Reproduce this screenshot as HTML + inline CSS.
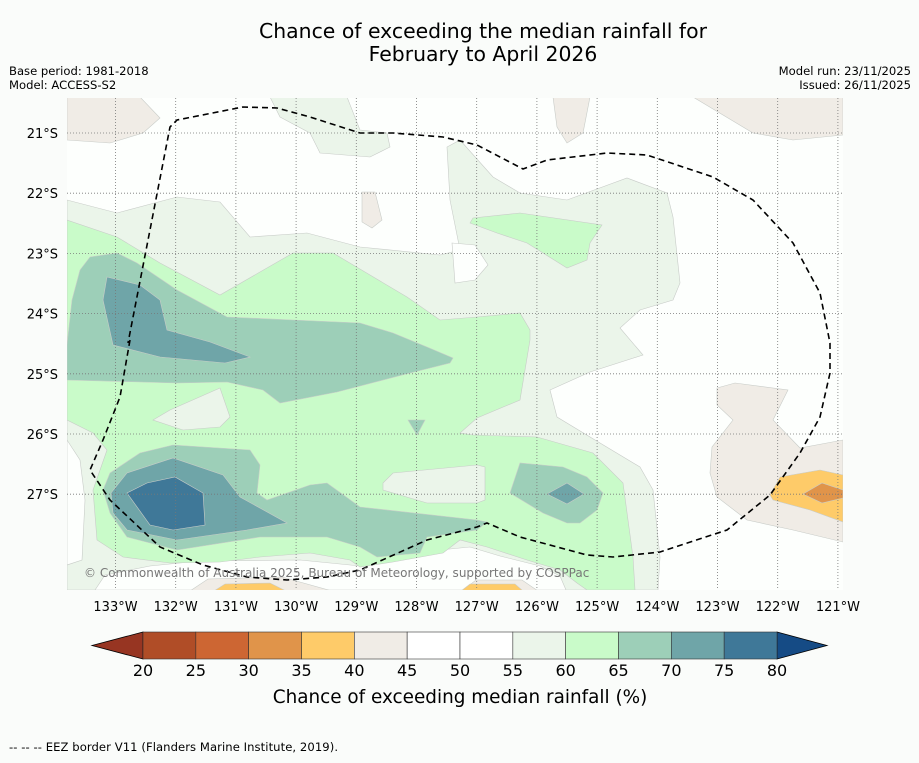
<!DOCTYPE html>
<html><head><meta charset="utf-8"><style>
html,body{margin:0;padding:0;background:#fafcfa;}
body{width:919px;height:758px;overflow:hidden;font-family:"Liberation Sans","DejaVu Sans",sans-serif;}
</style></head><body>
<svg id="fig" width="919" height="758" viewBox="0 0 919 758" xmlns="http://www.w3.org/2000/svg" font-family="DejaVu Sans, Liberation Sans, sans-serif">
<text x="483" y="38" font-size="20.4" text-anchor="middle">Chance of exceeding the median rainfall for</text>
<text x="483" y="61" font-size="20.4" text-anchor="middle">February to April 2026</text>
<text x="9" y="75" font-size="11.6">Base period: 1981-2018</text>
<text x="9" y="89" font-size="11.6">Model: ACCESS-S2</text>
<text x="911" y="75" font-size="11.6" text-anchor="end">Model run: 23/11/2025</text>
<text x="911" y="89" font-size="11.6" text-anchor="end">Issued: 26/11/2025</text>

<defs><clipPath id="mapclip"><rect x="67" y="98" width="776" height="492"/></clipPath></defs>
<g clip-path="url(#mapclip)" stroke="#c8ccc8" stroke-width="0.6">
<rect x="67" y="98" width="776" height="492" fill="#fdfffd" stroke="none"/>
<polygon fill="#ebf5ea" points="67,200 117,213 177,197 220,202 250,237 307,233 360,247 440,255 460,250 450,200 447,147 460,140 493,177 520,193 567,200 627,178 667,193 673,217 680,283 673,300 640,310 620,328 643,355 590,372 550,390 557,417 600,443 640,467 653,490 660,557 658,590 67,590"/>
<polygon fill="#fdfffd" points="452,243 475,245 488,265 475,280 455,283"/>
<polygon fill="#ebf5ea" points="270,97 280,117 310,133 320,153 370,157 390,147 387,133 360,130 347,97"/>
<polygon fill="#fdfffd" points="67,440 80,460 85,500 82,560 67,565"/>
<polygon fill="#fdfffd" points="95,590 105,575 150,566 200,561 300,560 360,566 400,560 440,550 470,547 500,556 540,566 560,576 566,590"/>
<polygon fill="#c9fbc9" points="67,220 117,237 160,263 220,295 293,253 333,253 370,275 407,297 440,320 477,317 520,313 530,330 530,340 520,400 477,418 460,433 473,435 537,437 593,453 623,483 633,557 635,590 587,590 577,583 560,570 527,560 487,547 460,540 443,553 393,562 360,567 350,560 310,553 260,557 220,562 170,563 123,557 97,540 93,490 107,450 93,433 67,420"/>
<polygon fill="#c9fbc9" points="470,223 473,218 520,213 602,225 590,243 587,260 567,268 527,243 497,233"/>
<polygon fill="#ebf5ea" points="153,420 170,410 220,388 230,417 220,427 183,430"/>
<polygon fill="#ebf5ea" points="383,483 393,473 477,465 485,467 485,500 477,503 427,503 383,490"/>
<polygon fill="#9dcfb8" points="80,270 90,257 117,253 137,263 177,290 227,317 293,320 360,323 393,333 427,347 453,358 450,363 410,373 337,392 280,403 263,390 227,382 177,383 67,380 67,345 72,300"/>
<polygon fill="#9dcfb8" points="103,490 110,473 140,453 173,445 250,450 260,465 257,493 267,500 310,485 327,483 360,507 477,520 487,522 477,530 427,537 420,553 377,557 360,547 327,537 260,537 177,550 127,537 110,513"/>
<polygon fill="#9dcfb8" points="510,493 520,463 563,467 587,477 603,493 597,510 580,523 567,523 543,513"/>
<polygon fill="#9dcfb8" points="408,420 425,420 417,435"/>
<polygon fill="#6fa5a8" points="107,277 140,285 160,300 167,330 210,342 250,357 225,363 160,357 113,345 103,300"/>
<polygon fill="#6fa5a8" points="111,493 127,473 173,458 223,475 240,497 287,523 247,530 177,540 127,530 113,513"/>
<polygon fill="#6fa5a8" points="547,494 567,483 584,494 567,504"/>
<polygon fill="#3f7898" points="127,493 147,483 175,477 203,493 205,525 173,530 150,525"/>
<polygon fill="#f0ece6" points="67,97 140,97 160,118 143,133 110,143 67,140"/>
<polygon fill="#f0ece6" points="362,192 375,192 382,220 372,228 362,222"/>
<polygon fill="#f0ece6" points="553,97 590,97 583,133 567,143 557,127"/>
<polygon fill="#f0ece6" points="693,97 843,97 843,135 793,140 753,133"/>
<polygon fill="#f0ece6" points="717,388 735,383 788,390 773,420 800,448 843,440 843,542 793,530 747,520 717,497 710,473 712,447 733,420 717,405"/>
<polygon fill="#f0ece6" points="190,591 208,579 282,577 332,591"/>
<polygon fill="#f0ece6" points="462,591 476,580 522,580 538,591"/>
<polygon fill="#fecb69" points="770,495 780,477 820,470 843,475 843,522 810,510 773,500"/>
<polygon fill="#e0944a" points="803,494 822,483 843,490 843,498 822,503"/>
<polygon fill="#fecb69" points="214,591 225,584 270,583 286,591"/>
<polygon fill="#fecb69" points="461,591 470,584 515,584 523,591"/>
<g id="grid" stroke="#777" stroke-width="0.8" stroke-dasharray="1,2" fill="none"></g>
<polyline fill="none" stroke="#000" stroke-width="1.6" stroke-dasharray="6,4" points="130,340 120,397 103,440 90,470 110,500 160,547 203,565 247,577 287,580 327,577 360,570 427,540 477,527 487,523 520,537 587,555 613,557 660,552 727,530 770,495 800,453 820,417 830,373 830,343 820,293 793,243 753,200 713,177 647,155 607,153 547,160 523,169 477,145 443,137 393,133 360,133 310,117 277,108 243,107 177,120 170,127 128,343"/>
<text x="84" y="577" font-size="12" fill="#777" stroke="none">© Commonwealth of Australia 2025, Bureau of Meteorology, supported by COSPPac</text>
</g>
<g id="axes"></g>
<g id="cbar"></g>
<text x="460" y="703" font-size="18.4" text-anchor="middle">Chance of exceeding median rainfall (%)</text>
<text x="9" y="751" font-size="11.6" textLength="329">--  --  -- EEZ border V11 (Flanders Marine Institute, 2019).</text>
</svg>
<script>
const lonTicks=[133,132,131,130,129,128,127,126,125,124,123,122,121];
const latTicks=[21,22,23,24,25,26,27];
const cbBounds=[20,25,30,35,40,45,50,55,60,65,70,75,80];
const cbColors=["#b04d27","#cd6633","#e0944a","#fecb69","#f0ece6","#ffffff","#ffffff","#ebf5ea","#c9fbc9","#9dcfb8","#6fa5a8","#3f7898"];
const NS="http://www.w3.org/2000/svg";
const xLon=l=>115.5+60.2*(133-l);
const yLat=l=>133+60.2*(l-21);
const grid=document.getElementById('grid'),axes=document.getElementById('axes'),cbar=document.getElementById('cbar');
function mk(tag,attrs,parent){const e=document.createElementNS(NS,tag);for(const k in attrs)e.setAttribute(k,attrs[k]);parent.appendChild(e);return e;}
lonTicks.forEach(l=>{
 const ln=mk('line',{x1:xLon(l),x2:xLon(l),y1:98,y2:590},grid);
 
 
 const t=mk('text',{x:xLon(l),y:611,'font-size':13,'text-anchor':'middle'},axes);
 t.textContent=l+'°W';
 
 
});
latTicks.forEach(l=>{
 const ln=mk('line',{x1:67,x2:843,y1:yLat(l),y2:yLat(l)},grid);
 
 
 const t=mk('text',{x:58,y:yLat(l)+5,'font-size':13,'text-anchor':'end'},axes);
 t.textContent=l+'°S';
 
 
});
const cx0=143,cx1=777,cy0=632,cy1=659;
const cbX=v=>cx0+(v-cbBounds[0])/(cbBounds[cbBounds.length-1]-cbBounds[0])*(cx1-cx0);
const lt=mk('polygon',{points:`${cbX(20)},${cy0} 92,${(cy0+cy1)/2} ${cbX(20)},${cy1}`,fill:'#973522',stroke:'#000','stroke-width':0.8},cbar);


const rt=mk('polygon',{points:`${cbX(80)},${cy0} 827,${(cy0+cy1)/2} ${cbX(80)},${cy1}`,fill:'#154b85',stroke:'#000','stroke-width':0.8},cbar);


cbColors.forEach((c,i)=>{
 const r=mk('rect',{x:cbX(cbBounds[i]),y:cy0,width:cbX(cbBounds[i+1])-cbX(cbBounds[i]),height:cy1-cy0,fill:c,stroke:'#333','stroke-width':0.6},cbar);
 
 
});
cbBounds.forEach(v=>{
 const t=mk('text',{x:cbX(v),y:676,'font-size':16,'text-anchor':'middle'},cbar);
 t.textContent=v;
 
 
});
</script>
</body></html>
